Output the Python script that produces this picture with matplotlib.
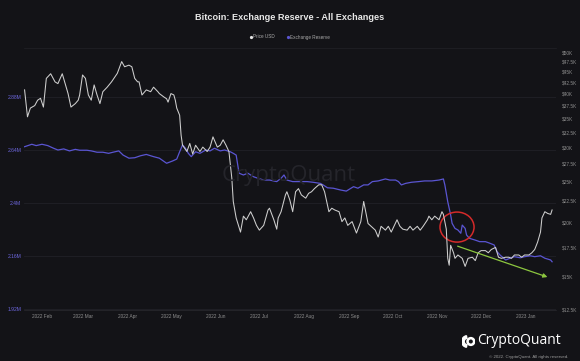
import matplotlib
matplotlib.use('Agg')
import matplotlib.pyplot as plt
import matplotlib.dates as mdates
from matplotlib.ticker import FixedLocator, FuncFormatter, NullLocator
from matplotlib.patches import Ellipse, Wedge, Circle
from matplotlib.lines import Line2D
import pandas as pd

plt.rcParams['font.family'] = ['Liberation Sans', 'DejaVu Sans']

# days counted from 2022-01-01
start = pd.Timestamp('2022-01-01')

price_day = [19, 21, 23, 26, 28, 30, 32, 34, 37, 40, 42, 45, 47, 49, 51, 54, 56, 57, 59, 61,
             63, 65, 67, 69, 71, 73, 76, 79, 83, 86, 88, 91, 93, 95, 97, 98, 100, 103, 106, 108,
             111, 112, 115, 117, 118, 120, 122, 123, 124, 126, 127, 128, 131, 133, 135, 137, 140, 142, 145, 147,
             149, 152, 154, 156, 158, 160, 162, 163, 165, 168, 170, 172, 175, 177, 179, 181, 184, 187, 188, 191,
             193, 194, 196, 199, 200, 202, 204, 206, 208, 210, 213, 215, 217, 219, 222, 224, 226, 229, 231, 233,
             236, 238, 240, 242, 245, 248, 251, 253, 256, 261, 263, 265, 268, 270, 272, 276, 278, 280, 283, 285,
             287, 290, 292, 294, 297, 298, 300, 302, 305, 307, 308, 310, 311, 312, 313, 315, 316, 318, 321, 323,
             325, 328, 330, 332, 334, 337, 339, 341, 344, 346, 348, 351, 353, 355, 357, 360, 362, 364, 367, 369,
             371, 373, 375, 376, 378, 380, 382, 383]
price_k = [40.8, 35.3, 37.0, 37.5, 38.6, 39.0, 37.2, 43.4, 44.5, 42.6, 42.2, 44.5, 42.2, 40.0, 37.2, 37.9, 38.6, 39.7, 44.2, 43.4,
           39.7, 38.6, 41.9, 39.7, 37.9, 40.4, 41.4, 42.6, 44.6, 47.5, 46.2, 46.6, 46.2, 43.4, 42.6, 42.6, 39.7, 40.8, 40.4, 41.4,
           40.4, 40.0, 39.3, 38.9, 38.2, 40.0, 39.7, 38.6, 37.0, 35.6, 32.0, 30.3, 29.3, 30.6, 28.9, 30.3, 29.3, 30.0, 29.3, 30.0,
           31.7, 30.0, 30.3, 31.2, 30.3, 29.3, 25.4, 22.4, 20.5, 19.0, 20.7, 20.3, 21.2, 20.5, 19.7, 19.2, 19.7, 21.4, 21.6, 20.3,
           19.3, 20.5, 21.2, 23.2, 23.6, 22.6, 21.2, 23.6, 24.0, 23.2, 22.8, 23.4, 23.6, 24.0, 24.5, 24.5, 23.6, 21.2, 21.6, 21.4,
           21.2, 20.1, 20.5, 19.7, 20.1, 18.9, 20.1, 22.4, 19.9, 19.2, 18.5, 19.6, 19.2, 19.6, 19.0, 20.3, 19.6, 19.3, 19.2, 19.6,
           19.2, 19.6, 19.2, 19.6, 20.3, 20.7, 20.3, 20.7, 20.3, 21.2, 20.9, 19.3, 16.5, 15.9, 17.7, 17.0, 16.5, 16.8, 16.5, 15.8,
           16.5, 16.6, 16.3, 17.0, 17.2, 17.2, 17.0, 17.3, 17.5, 16.6, 16.5, 16.6, 16.6, 16.5, 16.8, 16.8, 16.6, 16.8, 16.8, 17.0,
           17.3, 18.0, 19.0, 20.5, 21.2, 21.0, 20.9, 21.4]

reserve_day = [19, 24, 27, 31, 35, 39, 42, 46, 50, 54, 57, 62, 65, 69, 73, 77, 80, 84, 87, 91,
               95, 99, 103, 108, 112, 117, 121, 124, 126, 128, 130, 132, 134, 137, 140, 144, 147, 150, 154, 157,
               161, 163, 165, 167, 170, 173, 177, 180, 184, 188, 193, 196, 198, 200, 204, 209, 214, 218, 223, 225,
               228, 232, 237, 241, 246, 249, 253, 256, 259, 263, 268, 271, 275, 277, 279, 282, 286, 291, 295, 300,
               305, 308, 309, 311, 313, 314, 316, 318, 320, 321, 323, 324, 326, 330, 333, 337, 340, 343, 345, 347,
               351, 354, 357, 361, 364, 368, 371, 375, 378, 382, 383]
reserve_m = [2.655, 2.666, 2.660, 2.666, 2.660, 2.648, 2.640, 2.645, 2.636, 2.643, 2.639, 2.639, 2.636, 2.630, 2.630, 2.625, 2.630, 2.636, 2.617, 2.603,
             2.605, 2.614, 2.620, 2.610, 2.603, 2.580, 2.590, 2.599, 2.632, 2.663, 2.648, 2.625, 2.610, 2.632, 2.625, 2.640, 2.636, 2.648, 2.636, 2.640,
             2.632, 2.625, 2.617, 2.535, 2.527, 2.535, 2.519, 2.512, 2.504, 2.504, 2.497, 2.512, 2.527, 2.504, 2.497, 2.497, 2.497, 2.494, 2.489, 2.482,
             2.469, 2.467, 2.459, 2.454, 2.474, 2.467, 2.482, 2.482, 2.497, 2.500, 2.509, 2.504, 2.504, 2.497, 2.482, 2.489, 2.494, 2.497, 2.500, 2.500,
             2.504, 2.509, 2.482, 2.406, 2.346, 2.308, 2.285, 2.278, 2.263, 2.300, 2.285, 2.255, 2.240, 2.232, 2.225, 2.225, 2.218, 2.210, 2.180, 2.165,
             2.142, 2.150, 2.157, 2.152, 2.157, 2.161, 2.157, 2.161, 2.150, 2.142, 2.134]

left_ticks = [1.92, 2.16, 2.4, 2.64, 2.88]
right_ticks = [12.5, 15, 17.5, 20, 22.5, 25, 27.5, 30, 32.5, 35, 37.5, 40, 42.5, 45, 47.5, 50]

bg = '#131317'
price_col = '#cfcfcf'
res_col = '#5a55d2'

price_dates = start + pd.to_timedelta(price_day, unit='D')
reserve_dates = start + pd.to_timedelta(reserve_day, unit='D')

fig = plt.figure(figsize=(5.8, 3.61), dpi=100, facecolor=bg)
ax = fig.add_axes([24/580, 51/361, 532/580, 262/361])
ax.set_facecolor(bg)
ax2 = ax.twinx()

ax.plot(reserve_dates, reserve_m, color=res_col, lw=0.9, zorder=2)
ax2.plot(price_dates, [p * 1000 for p in price_k], color=price_col, lw=0.75, zorder=3)

ax.set_xlim(start + pd.Timedelta(days=18.6), start + pd.Timedelta(days=385.7))
ax.set_ylim(1.9155, 3.102)
ax2.set_yscale('log')
ax2.set_ylim(12500, 51100)

ax.yaxis.set_major_locator(FixedLocator(left_ticks))
ax.yaxis.set_major_formatter(FuncFormatter(lambda v, p: f'{v:g}M'))
ax2.yaxis.set_major_locator(FixedLocator([t * 1000 for t in right_ticks]))
ax2.yaxis.set_major_formatter(FuncFormatter(lambda v, p: f'${v/1000:g}K'))
ax2.yaxis.set_minor_locator(NullLocator())

ax.xaxis.set_major_locator(mdates.MonthLocator())
ax.xaxis.set_major_formatter(mdates.DateFormatter('%Y %b'))

ax.tick_params(axis='y', length=0, pad=2, labelsize=3.6, labelcolor='#6e68e0')
ax2.tick_params(axis='y', length=0, pad=4, labelsize=3.4, labelcolor='#8e8e8e')
ax.tick_params(axis='x', length=0, pad=3, labelsize=3.4, labelcolor='#8e8e8e')

ax.yaxis.grid(True, color='#24242a', lw=0.5)
for a in (ax, ax2):
    for s in a.spines.values():
        s.set_visible(False)
ax.spines['bottom'].set_visible(True)
ax.spines['bottom'].set_color('#2a2a30')
ax.spines['bottom'].set_linewidth(0.5)
ax.spines['top'].set_visible(True)
ax.spines['top'].set_color('#222228')
ax.spines['top'].set_linewidth(0.5)

# annotations
circ = Ellipse((mdates.date2num(start + pd.Timedelta(days=317.4)), 2.291), width=23.5, height=0.136,
               fill=False, edgecolor='#d42a2a', lw=1.1, zorder=5)
ax.add_patch(circ)
ax2.annotate('', xy=(start + pd.Timedelta(days=381.6), 14850), xytext=(start + pd.Timedelta(days=316), 17700),
             arrowprops=dict(arrowstyle='-|>', color='#8cc63f', lw=0.9, mutation_scale=6), zorder=6)

# watermark
fig.text(289/580, 1 - 176/361, 'CryptoQuant', ha='center', va='center', fontsize=16,
         color='#25252b', family='Open Sans', zorder=0)

# title and legend
fig.text(0.5, 1 - 17/361, 'Bitcoin: Exchange Reserve - All Exchanges', ha='center', va='center',
         fontsize=6.6, weight='bold', color='#e8e8e8')
handles = [Line2D([], [], marker='o', ls='', color='#e6e6e6', ms=1.3),
           Line2D([], [], marker='o', ls='', color=res_col, ms=1.3)]
fig.legend(handles, ['Price USD', 'Exchange Reserve'], loc='center', bbox_to_anchor=(290/580, 1 - 37/361),
           ncol=2, frameon=False, fontsize=3.3, labelcolor='#aaaaaa', handletextpad=0.2,
           columnspacing=2.5, handlelength=0.6)

# logo
lax = fig.add_axes([462/580, 1 - 348/361, 13/580, 13/361])
lax.set_xlim(0, 1)
lax.set_ylim(0, 1)
lax.set_aspect('equal')
lax.axis('off')
lax.add_patch(Wedge((0.42, 0.5), 0.45, 100, 260, width=0.2, color='#ffffff'))
lax.add_patch(Circle((0.68, 0.5), 0.3, color='#ffffff'))
lax.add_patch(Circle((0.68, 0.5), 0.1, color=bg))
fig.text(477/580, 1 - 341/361, 'CryptoQuant', ha='left', va='center', fontsize=10,
         color='#ffffff', family='Open Sans')
fig.text(568/580, 1 - 357/361, '\u00a9 2022. CryptoQuant. All rights reserved.', ha='right', va='center',
         fontsize=3.2, color='#9a9a9a')

fig.savefig('out.png', dpi=100, facecolor=bg)
